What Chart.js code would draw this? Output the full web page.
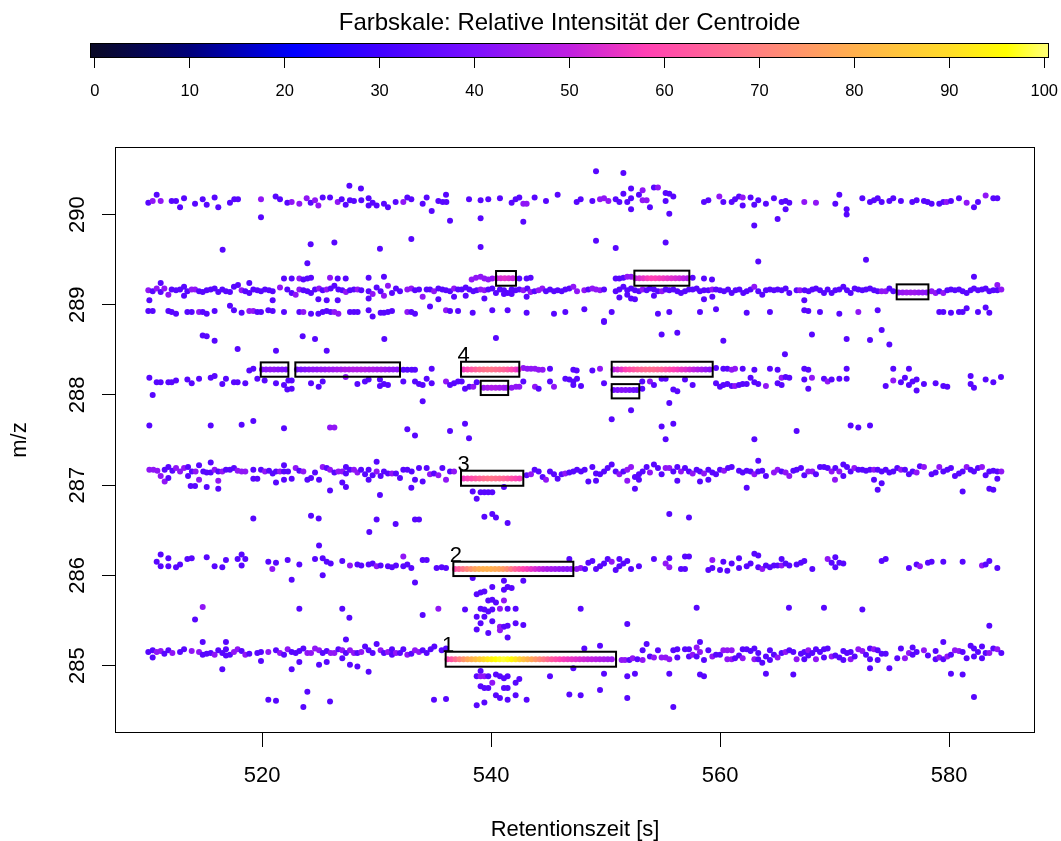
<!DOCTYPE html>
<html><head><meta charset="utf-8">
<script src="https://cdn.jsdelivr.net/npm/chart.js@4.4.1/dist/chart.umd.min.js"></script>
<style>
html,body{margin:0;padding:0;background:#fff;}
#wrap{position:relative;width:1061px;height:841px;overflow:hidden;}
canvas{position:absolute;left:0;top:0;}
</style></head><body>
<div id="wrap"><canvas id="main" width="1061" height="841"></canvas><canvas id="cbar" width="1061" height="110"></canvas></div>
<script>
// ---------- data: [retention time (s), m/z, relative intensity (%)] ----------
const row290 = [[510.07,290.13,34],[510.45,290.15,43],[510.8,290.22,34],[511.15,290.15,43],[512.11,290.15,34],[512.49,290.15,34],[512.84,290.08,34],[513.19,290.18,34],[514.15,290.12,34],[514.82,290.17,34],[515.17,290.11,34],[515.86,290.19,34],[516.18,290.08,34],[517.2,290.13,34],[517.58,290.17,34],[517.9,290.17,34],[519.91,290.17,43],[519.91,289.97,34],[521.19,290.2,34],[521.57,290.17,34],[522.21,290.13,34],[522.59,290.14,43],[523.26,290.12,43],[523.9,290.18,43],[524.25,290.13,34],[524.63,290.16,43],[524.92,290.1,43],[525.3,290.19,34],[525.94,290.19,34],[526.61,290.14,43],[526.96,290.17,34],[527.31,290.11,34],[527.63,290.32,34],[527.68,290.16,34],[528.03,290.15,34],[528.64,290.29,34],[528.67,290.16,34],[529.31,290.18,34],[529.31,290.1,34],[529.66,290.13,34],[530.01,290.1,34],[530.65,290.12,34],[531.0,290.08,34],[531.67,290.14,34],[532.34,290.14,43],[532.69,290.19,34],[533.04,290.17,34],[534.03,290.12,34],[534.38,290.19,34],
[534.82,290.04,34],[535.4,290.15,34],[535.78,290.14,34],[536.07,290.22,34],[536.1,290.14,34],[536.42,289.93,34],[538.08,290.17,34],[539.09,290.16,34],[539.09,289.96,34],[539.76,290.17,34],[540.78,290.18,34],[541.8,290.13,34],[542.15,290.17,34],[542.47,290.19,34],[542.82,290.12,43],[543.11,290.12,43],[542.82,289.92,34],[543.81,290.19,34],[544.8,290.15,34],[545.82,290.22,34],[547.48,290.14,34],[547.83,290.17,34],[548.85,290.15,34],[549.17,290.48,34],[549.52,290.17,43],[549.87,290.18,43],[550.25,290.15,43],[550.89,290.17,34],[551.21,290.14,34],[551.56,290.46,34],[551.56,290.23,34],[551.9,290.14,34],[552.23,290.18,34],[552.23,290.29,34],[552.23,290.06,34],[552.92,290.22,34],[553.24,290.27,43],[553.24,290.16,43],[553.59,290.16,43],[553.88,290.08,34],[554.23,290.3,34],[554.58,290.3,43],[555.25,290.24,34],[555.25,290.15,34],[555.57,290.23,34],[555.57,290.01,34],[555.92,290.2,34],
[558.6,290.14,34],[558.98,290.16,34],[559.94,290.2,43],[560.29,290.14,34],[561.02,290.14,34],[561.31,290.17,34],[561.66,290.2,34],[561.98,290.19,43],[561.98,290.1,34],[562.67,290.19,34],[562.99,290.11,34],[562.99,289.88,34],[563.34,290.16,34],[564.01,290.12,34],[564.71,290.18,34],[565.03,289.95,34],[565.38,290.14,34],[565.73,290.15,34],[565.73,290.06,34],[566.05,290.13,34],[567.36,290.14,43],[568.38,290.13,43],[570.07,290.12,34],[570.42,290.22,34],[571.06,290.06,34],[571.06,290.0,34],[572.43,290.18,34],[573.1,290.14,34],[573.45,290.16,34],[573.77,290.18,34],[574.12,290.14,34],[574.79,290.15,34],[575.13,290.18,34],[575.8,290.15,34],[576.79,290.14,34],[577.17,290.16,34],[577.81,290.15,34],[578.13,290.14,34],[578.48,290.12,34],[579.15,290.12,34],[579.5,290.14,34],[579.79,290.14,43],[580.17,290.15,34],[580.87,290.18,34],[581.54,290.13,43],[582.18,290.08,34],[582.53,290.14,34],[583.2,290.21,43],[583.87,290.18,34],[584.22,290.18,34],
[516.56,289.61,34],[524.25,289.67,34],[526.32,289.69,34],[523.96,289.46,34],[530.3,289.62,34],[533.04,289.73,34],[539.09,289.64,34],[549.17,289.71,34],[550.89,289.63,34],[555.25,289.69,34],[563.34,289.48,34],[572.75,289.5,34]];

const row289 = [[521.92,289.29,34],[522.59,289.29,34],[523.26,289.29,43],[523.61,289.28,34],[523.96,289.29,34],[524.28,289.3,34],[525.94,289.3,43],[526.61,289.29,34],[527.31,289.29,34],[529.31,289.3,34],[530.65,289.31,34],
[538.31,289.28,43],[538.69,289.3,43],[539.09,289.31,43],[539.42,289.29,43],[539.76,289.28,43],[540.11,289.29,43],[542.47,289.29,34],[543.11,289.29,34],[543.46,289.3,34],[550.89,289.29,34],[551.21,289.29,34],[551.56,289.3,34],[551.9,289.31,43],[552.23,289.31,43],[557.61,289.3,34],[558.6,289.29,34],[559.3,289.28,34],[582.18,289.31,34],
[510.07,289.16,43],[510.45,289.15,34],[510.8,289.18,43],[511.15,289.24,34],[511.15,289.14,34],[511.47,289.18,43],[511.82,289.11,43],[512.11,289.17,34],[512.49,289.16,34],[512.84,289.17,34],[513.19,289.2,34],[513.19,289.1,34],[513.48,289.15,34],[513.86,289.17,43],[514.15,289.17,43],[514.5,289.15,34],[514.82,289.14,34],[515.17,289.16,34],[515.52,289.17,34],[515.86,289.18,34],[516.18,289.14,34],[516.53,289.17,34],[516.85,289.15,34],[517.2,289.14,34],[517.55,289.2,34],[517.9,289.22,34],[518.22,289.16,43],[518.54,289.15,34],[518.89,289.24,34],[518.89,289.13,34],[519.24,289.17,34],[519.59,289.16,34],[519.91,289.15,34],[520.26,289.17,34],[520.61,289.16,34],[520.93,289.15,34],[521.57,289.19,43],[522.21,289.17,34],[522.59,289.13,34],[522.94,289.11,43],[523.26,289.17,43],[523.61,289.16,34],[523.96,289.15,34],[524.28,289.13,34],[524.63,289.17,34],[524.98,289.18,43],[525.3,289.16,34],[525.65,289.17,43],[526.0,289.18,34],[526.32,289.21,34],[526.67,289.17,34],[527.01,289.16,34],[527.33,289.14,43],[527.68,289.16,34],[528.03,289.17,34],[528.35,289.17,43],[528.67,289.16,34],[529.31,289.15,34],[529.66,289.12,43],[530.01,289.19,34],[530.36,289.15,34],[530.65,289.1,43],[531.0,289.21,43],[531.35,289.13,34],[531.7,289.18,34],[532.05,289.15,34],[532.69,289.17,43],[533.04,289.18,43],[533.36,289.16,34],[533.71,289.17,34],[534.03,289.09,43],[534.38,289.17,34],
[534.67,289.17,34],[535.02,289.15,43],[535.4,289.18,34],[535.75,289.17,34],[536.07,289.16,34],[536.42,289.15,34],[536.77,289.18,43],[537.12,289.17,34],[537.44,289.17,34],[537.79,289.19,34],[538.11,289.17,34],[538.45,289.15,34],[538.75,289.16,34],[539.09,289.17,43],[539.42,289.16,43],[539.76,289.17,34],[540.11,289.18,34],[540.43,289.13,34],[540.78,289.17,34],[541.13,289.16,34],[541.45,289.13,34],[541.8,289.17,34],[542.15,289.16,34],[542.47,289.17,34],[542.82,289.16,43],[543.17,289.18,34],[543.46,289.14,43],[543.81,289.15,34],[544.16,289.16,43],[544.48,289.18,43],[544.8,289.15,34],[545.15,289.17,34],[545.5,289.15,34],[545.82,289.16,34],[546.17,289.15,34],[546.49,289.17,34],[546.84,289.18,34],[547.19,289.2,43],[547.51,289.15,43],[548.15,289.16,43],[548.5,289.17,34],[548.85,289.18,43],[549.17,289.17,43],[549.52,289.16,43],[549.87,289.17,34],[550.89,289.15,34],[551.21,289.17,34],[551.56,289.2,34],[551.9,289.16,34],[552.23,289.18,34],[552.57,289.16,34],[552.92,289.15,34],[553.24,289.17,43],[553.59,289.16,34],[553.88,289.18,34],[554.23,289.17,34],[554.58,289.15,34],[554.93,289.15,43],[555.25,289.17,34],[555.57,289.16,34],[555.92,289.17,34],[556.27,289.15,34],[556.59,289.13,34],[556.94,289.15,34],[557.29,289.17,34],[557.61,289.17,34],[557.96,289.18,34],
[558.25,289.15,34],[558.6,289.16,34],[558.98,289.16,34],[559.33,289.17,43],[559.65,289.17,34],[560.0,289.16,34],[560.35,289.15,34],[560.7,289.17,34],[561.02,289.13,34],[561.36,289.16,34],[561.69,289.17,34],[562.03,289.13,34],[562.33,289.15,34],[562.67,289.17,34],[562.99,289.2,43],[563.34,289.15,34],[563.69,289.11,34],[564.01,289.16,34],[564.36,289.17,34],[564.71,289.16,34],[565.03,289.17,34],[565.38,289.16,34],[565.73,289.18,34],[566.05,289.13,34],[566.69,289.16,34],[566.98,289.16,43],[567.39,289.16,34],[567.74,289.15,34],[568.06,289.17,34],[568.38,289.18,34],[568.73,289.16,34],[569.08,289.13,34],[569.4,289.17,34],[569.75,289.13,34],[570.07,289.16,34],[570.42,289.17,34],[570.77,289.2,34],[571.09,289.16,34],[571.41,289.13,34],[571.76,289.18,34],[572.08,289.17,34],[572.43,289.16,34],[572.75,289.17,34],[573.1,289.18,34],[573.45,289.16,34],[573.77,289.15,34],[574.12,289.15,43],[574.47,289.15,43],[574.79,289.18,34],[575.13,289.15,34],[578.48,289.15,43],[578.83,289.13,43],[579.15,289.15,34],[579.5,289.13,43],[579.85,289.16,34],[580.17,289.17,34],[580.52,289.16,34],[580.87,289.17,34],[581.19,289.15,34],[581.54,289.13,34],[581.89,289.16,34],[582.18,289.18,34],[582.53,289.16,34],[582.88,289.17,34],[583.2,289.18,34],[583.52,289.15,34],[583.87,289.16,34],[584.22,289.22,43],[584.22,289.16,34],[584.57,289.17,43],
[510.16,289.05,34],[517.2,288.99,34],[517.55,288.94,34],[520.93,289.05,34],[524.92,289.06,34],[525.65,289.05,34],[526.61,289.05,34],[529.31,289.07,34],[534.67,288.98,34],[535.4,289.06,34],[536.77,289.09,34],[537.79,289.1,34],[539.42,289.07,34],[541.13,289.12,34],[541.8,289.12,34],[543.11,289.09,34],[551.21,289.08,34],[551.9,289.11,34],[552.23,289.07,34],[552.57,289.06,34],[554.23,289.1,34],[558.6,289.06,34],[559.33,289.09,34],[567.36,289.05,34]];

const row2889 = [[510.07,288.93,34],[510.45,288.93,34],[511.82,288.93,34],[512.11,288.92,34],[512.49,288.9,34],[513.48,288.92,34],[513.86,288.92,34],[514.5,288.92,43],[514.82,288.92,34],[515.17,288.9,34],[515.86,288.93,34],[518.22,288.91,34],[518.89,288.93,43],[519.24,288.93,43],[519.59,288.92,34],[519.91,288.92,34],[520.55,288.94,34],[520.93,288.93,34],[521.92,288.92,34],[523.26,288.92,34],[523.61,288.92,43],[524.28,288.9,34],[524.92,288.9,34],[525.3,288.92,34],[525.65,288.93,34],[526.0,288.92,34],[526.32,288.92,43],[526.67,288.9,43],[527.68,288.92,34],[528.03,288.92,34],[528.35,288.92,34],[529.31,288.94,34],[529.66,288.87,34],[530.36,288.91,34],[530.65,288.91,34],[531.0,288.92,34],[531.35,288.93,34],[532.69,288.92,43],[533.04,288.92,34],[533.36,288.9,34],
[536.07,288.94,43],[536.42,288.93,34],[537.12,288.93,34],[538.4,288.91,34],[540.11,288.94,34],[541.45,288.94,34],[543.11,288.91,34],[545.5,288.9,34],[546.49,288.92,34],[548.15,288.95,34],[549.87,288.82,34],[550.54,288.92,34],[554.58,288.9,34],[555.57,288.92,34],
[558.25,288.92,34],[559.65,288.95,34],[562.33,288.91,34],[564.36,288.92,34],[567.36,288.94,34],[567.71,288.93,34],[568.73,288.92,34],[570.42,288.9,34],[572.08,288.92,43],[573.77,288.94,34],[579.15,288.92,34],[579.5,288.92,34],[580.17,288.91,34],[580.87,288.92,34],[581.19,288.92,34],[581.54,288.96,34],[582.53,288.92,34],[583.2,288.97,34],[583.52,288.91,34]];

const row288 = [[514.82,288.66,34],[515.17,288.65,34],[515.86,288.6,34],[517.87,288.51,34],[521.22,288.49,34],[523.55,288.65,34],[524.63,288.62,34],[525.65,288.49,34],[530.68,288.62,34],[540.43,288.63,34],[549.87,288.81,34],[554.9,288.67,34],[556.27,288.69,34],[560.29,288.6,34],[568.03,288.67,34],[571.06,288.62,34],[573.1,288.61,34],[574.12,288.72,34],[574.79,288.56,34],[565.67,288.45,34],
[518.89,288.27,34],[519.24,288.29,34],[532.34,288.28,34],[532.69,288.28,34],[533.07,288.28,34],[533.36,288.28,34],[534.82,288.29,34],[542.82,288.3,43],[543.17,288.29,43],[543.49,288.29,43],[543.84,288.29,43],[544.16,288.28,43],[544.51,288.28,43],[545.15,288.29,34],[547.19,288.28,34],[547.48,288.27,34],[548.85,288.27,34],[549.52,288.29,43],[559.65,288.3,34],[560.29,288.29,34],[560.64,288.29,34],[561.02,288.28,43],[561.31,288.29,43],[561.98,288.29,34],[563.0,288.28,34],[564.36,288.29,34],[565.03,288.28,34],[567.36,288.29,34],[567.71,288.28,34],[571.06,288.29,34],[575.13,288.29,34],[576.5,288.29,34],
[510.16,288.19,34],[510.45,288.0,34],[510.8,288.14,34],[511.15,288.14,34],[511.82,288.14,34],[512.11,288.14,34],[512.49,288.16,34],[513.48,288.17,34],[513.86,288.13,34],[514.5,288.18,34],[515.52,288.19,34],[515.86,288.21,34],[516.53,288.12,34],[516.85,288.18,34],[517.55,288.14,34],[517.87,288.14,34],[518.54,288.13,34],[519.59,288.18,34],[520.23,288.16,34],[521.22,288.13,34],[521.92,288.11,34],[522.21,288.06,34],[522.59,288.07,34],[522.3,288.16,34],[522.59,288.16,34],[524.28,288.13,34],[524.95,288.09,34],[525.3,288.15,34],[527.31,288.2,43],[528.33,288.12,34],[528.99,288.15,34],[529.31,288.17,34],[530.3,288.17,34],[530.3,288.1,34],[530.65,288.12,34],[531.0,288.11,34],[532.34,288.15,34],[533.36,288.15,34],[533.71,288.12,34],[534.03,288.11,34],[534.38,288.18,34],[534.03,287.93,34],
[534.82,288.13,34],[536.07,288.15,43],[536.42,288.11,34],[536.77,288.13,34],[537.12,288.15,34],[537.44,288.15,34],[537.73,288.07,34],[538.11,288.09,34],[538.45,288.09,43],[538.75,288.14,34],[541.8,288.08,43],[542.18,288.09,43],[542.47,288.09,43],[542.82,288.15,34],[543.84,288.09,43],[544.16,288.07,34],[545.15,288.15,34],[545.5,288.09,43],[546.49,288.18,34],[546.84,288.17,34],[547.19,288.15,34],[547.51,288.18,34],[547.86,288.1,34],[547.19,288.11,34],[549.87,288.13,34],[553.21,288.07,34],[553.21,288.15,34],[553.88,288.15,43],[554.23,288.11,34],[554.9,288.18,34],[555.25,288.18,34],[555.92,288.06,34],[556.27,288.04,34],[556.94,288.17,34],[557.61,288.11,34],
[559.65,288.13,34],[560.0,288.09,34],[560.29,288.11,34],[560.64,288.12,34],[561.02,288.1,34],[561.31,288.1,43],[561.66,288.11,34],[561.98,288.12,34],[562.33,288.12,34],[562.67,288.19,34],[563.0,288.14,34],[563.34,288.12,34],[564.01,288.1,43],[565.03,288.13,34],[565.38,288.11,34],[565.38,288.19,43],[565.73,288.2,34],[566.05,288.19,34],[567.36,288.17,34],[567.71,288.07,34],[568.03,288.19,43],[569.08,288.18,34],[569.4,288.15,43],[569.75,288.17,34],[570.42,288.18,34],[571.06,288.18,34],[574.47,288.1,34],[575.13,288.16,43],[575.8,288.14,34],[576.15,288.19,34],[576.5,288.11,34],[576.82,288.15,34],[577.17,288.17,34],[577.17,288.05,34],[577.81,288.12,34],[578.83,288.13,34],[579.5,288.1,34],[579.85,288.09,34],[581.89,288.21,34],[581.89,288.12,34],[582.18,288.08,34],[583.2,288.17,34],[583.87,288.14,34],[584.54,288.2,34]];

const row287 = [[510.16,287.66,34],[515.52,287.66,34],[518.22,287.67,34],[519.24,287.71,34],[521.92,287.63,34],[525.94,287.64,43],[526.32,287.64,43],[532.69,287.62,34],[533.36,287.55,34],[536.42,287.6,34],[537.73,287.68,34],[538.08,287.52,34],[550.54,287.73,34],[552.23,287.83,34],[554.9,287.65,34],[555.25,287.51,34],[555.57,287.91,34],[555.92,287.68,34],[563.0,287.51,34],[566.69,287.6,34],[571.41,287.66,34],[572.08,287.64,34],[573.1,287.66,34],
[510.16,287.17,43],[510.51,287.17,43],[510.86,287.16,43],[511.15,287.1,43],[511.5,287.04,43],[511.5,287.17,34],[511.82,287.2,34],[511.82,287.08,34],[512.17,287.16,34],[512.49,287.19,43],[512.84,287.15,43],[513.19,287.19,43],[513.54,287.2,34],[513.54,287.1,34],[513.88,287.15,34],[514.2,287.15,43],[514.5,287.22,34],[514.5,287.06,43],[514.87,287.15,34],[515.17,287.14,34],[515.52,287.25,34],[515.52,287.14,34],[515.86,287.17,43],[516.18,287.15,34],[516.18,287.05,43],[516.53,287.15,43],[516.85,287.17,34],[517.2,287.17,34],[517.55,287.19,34],[517.87,287.16,43],[518.22,287.15,43],[518.54,287.15,43],[519.24,287.17,34],[519.24,287.07,34],[519.59,287.07,34],[519.91,287.17,34],[520.26,287.15,43],[520.61,287.16,34],[520.93,287.13,34],[521.22,287.15,34],[521.22,287.03,34],[521.57,287.15,43],[521.92,287.22,34],[521.92,287.15,34],[521.92,287.06,34],[522.27,287.15,34],[522.59,287.07,34],[522.94,287.19,43],[523.26,287.16,34],[523.61,287.15,43],[523.96,287.06,34],[524.28,287.08,34],[524.63,287.14,34],[524.98,287.06,34],[525.3,287.2,43],[525.65,287.19,34],[525.94,287.17,43],[526.32,287.14,34],[526.67,287.15,43],[527.01,287.15,43],[527.33,287.2,34],[527.33,287.13,34],[527.68,287.17,34],[528.03,287.17,43],[528.33,287.14,43],[528.65,287.17,34],[529.0,287.12,34],[529.31,287.17,34],[529.31,287.06,34],[529.66,287.11,34],[530.01,287.26,34],[530.01,287.15,43],[530.36,287.1,34],[530.65,287.15,34],[531.0,287.13,34],[531.35,287.13,43],[531.7,287.13,34],[532.05,287.08,34],[532.34,287.17,34],[532.69,287.17,34],[533.07,287.15,34],[533.36,287.06,34],[533.71,287.19,34],[534.03,287.04,34],[534.38,287.19,34],
[534.67,287.12,43],[535.02,287.13,34],[535.4,287.11,43],[535.75,287.19,34],[536.07,287.06,43],[536.42,287.15,34],[536.77,287.15,43],[543.11,287.11,34],[543.49,287.12,43],[543.81,287.17,34],[544.16,287.15,34],[544.51,287.09,34],[544.8,287.06,43],[545.15,287.15,34],[545.5,287.12,34],[545.82,287.07,34],[546.17,287.12,34],[546.49,287.13,43],[546.84,287.14,34],[547.19,287.15,34],[547.51,287.17,34],[547.86,287.15,34],[548.18,287.17,34],[548.5,287.04,34],[548.85,287.2,34],[549.17,287.13,34],[549.17,287.05,34],[549.52,287.12,34],[549.87,287.15,34],[550.19,287.19,34],[550.54,287.23,34],[550.89,287.15,34],[551.21,287.12,43],[551.56,287.15,34],[551.9,287.17,43],[551.9,287.05,43],[552.23,287.2,43],[552.57,287.09,34],[552.57,286.96,34],[552.92,287.12,34],[552.92,287.06,34],[553.24,287.15,34],[553.59,287.2,34],[553.88,287.14,43],[554.23,287.23,34],[554.58,287.19,34],[554.9,287.12,34],[555.25,287.19,43],[555.57,287.19,43],[555.92,287.15,34],[556.27,287.2,34],[556.27,287.05,34],[556.59,287.15,43],[556.94,287.19,34],[557.29,287.15,34],[557.61,287.13,43],[557.96,287.17,34],
[558.25,287.15,34],[558.6,287.13,43],[558.98,287.17,34],[559.33,287.14,34],[559.65,287.12,34],[560.0,287.17,34],[560.35,287.16,43],[560.7,287.19,34],[561.02,287.2,34],[561.66,287.16,34],[561.98,287.14,34],[562.33,287.16,34],[562.67,287.15,34],[563.0,287.12,43],[563.34,287.27,34],[563.34,287.15,34],[563.69,287.16,34],[564.01,287.1,34],[564.71,287.14,43],[565.03,287.17,43],[565.38,287.15,34],[565.73,287.14,43],[566.05,287.1,43],[566.4,287.16,34],[566.69,287.17,34],[567.07,287.19,34],[567.36,287.11,34],[567.71,287.15,43],[568.06,287.15,43],[568.38,287.12,34],[568.73,287.2,34],[569.08,287.2,34],[569.4,287.19,34],[569.75,287.15,43],[570.07,287.19,34],[570.42,287.15,43],[570.77,287.1,34],[570.77,287.23,34],[571.09,287.2,34],[571.41,287.15,34],[571.73,287.19,43],[572.08,287.17,34],[572.43,287.17,34],[572.75,287.16,34],[573.1,287.17,34],[573.45,287.17,43],[573.77,287.17,34],[574.12,287.15,34],[574.47,287.17,34],[574.79,287.14,34],[575.13,287.15,34],[575.48,287.19,34],[575.8,287.17,43],[576.15,287.17,34],[576.5,287.12,34],[576.82,287.15,34],[577.17,287.14,43],[577.46,287.21,34],[577.81,287.2,43],[578.48,287.12,34],[578.83,287.14,34],[579.15,287.2,43],[579.5,287.15,34],[579.85,287.17,34],[580.17,287.19,34],[580.52,287.1,34],[580.87,287.13,34],[581.19,287.15,34],[581.54,287.2,43],[581.89,287.17,34],[582.18,287.15,34],[582.53,287.19,34],[582.88,287.2,43],[583.2,287.11,34],[583.52,287.15,34],[583.87,287.16,34],[584.22,287.15,34],[584.57,287.15,43],
[513.77,286.99,34],[514.15,286.99,34],[515.17,286.98,34],[516.18,286.96,34],[525.94,286.94,34],[527.01,287.03,34],[527.33,286.98,34],[530.3,286.89,34],[533.04,286.97,34],[538.4,286.93,34],[538.75,286.85,34],[539.09,286.92,34],[539.42,286.92,34],[539.76,286.92,34],[540.11,286.92,34],[541.13,286.98,34],[558.25,287.04,34],[558.98,287.06,34],[562.33,286.97,34],[570.04,287.06,43],[573.45,287.06,34],[573.77,286.95,34],[574.12,287.02,34],[581.19,286.93,34],[583.52,286.96,34],[583.87,286.95,34],[584.22,287.07,34]];

const row286 = [[539.42,286.65,34],[540.11,286.68,34],[540.43,286.64,34],[555.57,286.68,34],[557.29,286.64,34],[541.45,286.58,34],[519.24,286.63,34],[524.28,286.66,34],[524.95,286.63,34],[530.01,286.62,34],[533.36,286.62,34],[533.71,286.62,34],[531.67,286.57,34],[529.37,286.48,34],
[510.8,286.15,34],[511.15,286.23,34],[511.15,286.1,34],[511.82,286.19,34],[511.82,286.1,34],[512.49,286.09,34],[512.84,286.12,34],[513.48,286.18,34],[513.86,286.19,34],[515.17,286.2,34],[515.86,286.1,34],[516.53,286.09,34],[516.85,286.17,34],[517.87,286.18,34],[518.22,286.23,34],[518.22,286.11,34],[518.54,286.18,34],[520.55,286.15,34],[520.9,286.07,43],[521.22,286.14,34],[522.24,286.17,34],[522.59,285.95,34],[523.26,286.12,34],[524.63,286.18,34],[524.98,286.33,34],[525.3,286.19,34],[525.3,286.0,34],[525.65,286.15,34],[526.0,286.13,34],[527.01,286.16,34],[527.68,286.11,43],[528.33,286.12,34],[528.67,286.11,34],[529.31,286.12,34],[529.66,286.13,34],[530.01,286.1,43],[530.36,286.11,34],[531.0,286.1,34],[531.35,286.09,34],[531.7,286.11,34],[532.34,286.21,43],[532.34,286.1,34],[532.69,286.12,34],[533.04,286.08,34],[533.36,285.92,34],[534.03,286.17,34],[534.38,286.17,34],
[535.25,286.08,34],[535.69,286.09,34],[536.07,286.08,34],[546.84,286.18,34],[547.48,286.07,43],[547.83,286.08,43],[548.21,286.07,34],[548.5,286.14,34],[548.85,286.16,34],[549.17,286.07,34],[549.52,286.1,34],[549.87,286.13,34],[550.19,286.18,34],[550.54,286.15,43],[550.89,286.06,34],[551.21,286.1,34],[551.21,286.18,34],[551.56,286.13,34],[551.9,286.16,34],[552.23,286.07,34],[552.92,286.1,34],[554.23,286.18,34],[555.25,286.13,43],[555.57,286.19,34],[555.57,286.09,43],[556.59,286.07,34],[556.94,286.07,34],[556.94,286.21,34],[557.29,286.21,34],
[558.98,286.06,34],[559.33,286.08,34],[559.33,286.17,43],[560.0,286.06,34],[560.29,286.15,34],[560.64,286.05,34],[561.02,286.13,34],[561.66,286.19,34],[561.66,286.08,34],[562.33,286.1,34],[562.67,286.13,34],[563.0,286.24,34],[563.34,286.22,34],[563.34,286.09,34],[563.69,286.07,43],[564.01,286.11,34],[564.36,286.09,34],[564.71,286.11,34],[565.03,286.11,34],[565.38,286.18,34],[565.38,286.11,43],[565.73,286.13,34],[566.05,286.11,34],[566.69,286.12,34],[567.07,286.14,34],[567.36,286.16,34],[568.06,286.07,34],[569.4,286.18,43],[569.75,286.14,34],[570.07,286.2,34],[570.07,286.09,34],[570.42,286.14,34],[570.77,286.13,34],[574.12,286.16,34],[574.47,286.18,34],[576.5,286.08,34],[577.17,286.12,34],[577.46,286.1,43],[578.16,286.14,34],[578.48,286.15,34],[579.5,286.15,34],[581.19,286.15,34],[582.88,286.11,43],[583.2,286.12,34],[583.52,286.16,34],[584.22,286.08,34],
[538.4,285.97,34],[538.75,285.79,34],[539.09,285.81,34],[539.42,285.82,34],[540.11,285.87,34],[541.13,285.94,34],[541.13,285.84,34],[541.45,285.87,34],[541.8,285.86,34],[542.82,285.94,34],[539.76,285.72,34],[540.11,285.73,34],[540.43,285.7,34],[541.13,285.72,43],[539.09,285.63,34],[539.42,285.62,34],[539.76,285.6,34],[540.11,285.62,34],[540.78,285.63,43],[541.45,285.63,34],[542.15,285.63,34],[538.75,285.54,34],[539.42,285.54,34],[539.09,285.47,34],[540.11,285.49,34],[540.78,285.43,43],[541.13,285.43,34],[541.45,285.44,34],[542.15,285.47,34],[542.82,285.45,34],[538.75,285.4,34],[539.76,285.36,34],[540.78,285.39,43],[541.45,285.31,34],[537.73,285.62,34],[547.83,285.63,34],[551.9,285.46,34],[557.96,285.64,34],[535.4,285.63,43],[514.15,285.51,34],[514.82,285.65,43],[523.26,285.63,34],[527.01,285.63,34],[527.63,285.53,34],[534.03,285.56,34],[566.02,285.64,34],[569.08,285.64,34],[572.43,285.62,34],[583.52,285.44,34]];

const row285 = [[510.07,285.15,34],[510.45,285.17,34],[510.45,285.09,34],[510.8,285.15,43],[511.15,285.16,43],[511.47,285.13,34],[511.82,285.17,34],[512.17,285.14,43],[512.84,285.15,34],[513.19,285.18,34],[513.86,285.16,43],[514.5,285.15,43],[514.82,285.26,34],[514.82,285.12,34],[515.17,285.13,34],[515.52,285.14,34],[515.86,285.12,43],[516.18,285.17,34],[516.53,285.14,34],[516.53,284.96,34],[516.85,285.26,34],[516.85,285.18,34],[516.85,285.11,34],[517.2,285.12,34],[517.55,285.15,43],[517.87,285.18,43],[518.22,285.16,34],[518.54,285.12,43],[518.89,285.13,34],[519.59,285.14,34],[519.91,285.15,34],[519.91,285.05,34],[520.55,285.15,43],[521.22,285.17,34],[521.57,285.14,43],[521.92,285.12,34],[522.24,285.18,43],[522.59,285.15,34],[522.59,284.96,34],[522.94,285.14,34],[523.26,285.16,34],[523.26,285.04,34],[523.61,285.19,34],[523.96,285.14,43],[524.28,285.14,43],[524.63,285.19,43],[524.98,285.17,43],[524.98,285.01,34],[525.3,285.14,34],[525.65,285.16,34],[525.65,285.04,34],[526.0,285.14,43],[526.32,285.14,43],[526.67,285.18,34],[527.01,285.17,43],[527.01,285.08,34],[527.33,285.14,34],[527.33,285.29,34],[527.68,285.17,43],[527.68,285.01,34],[528.03,285.14,43],[528.33,285.14,34],[528.33,284.99,34],[528.67,285.15,43],[529.0,285.21,34],[529.31,285.17,34],[529.31,284.93,34],[529.66,285.14,34],[530.01,285.24,34],[530.36,285.17,43],[530.65,285.14,34],[531.0,285.15,43],[531.35,285.18,34],[531.35,285.12,34],[531.7,285.14,43],[532.05,285.14,34],[532.34,285.18,34],[532.69,285.12,43],[533.04,285.13,34],[533.36,285.17,43],[533.71,285.15,43],[534.03,285.17,34],[534.38,285.14,34],[534.73,285.18,34],[535.05,285.21,34],
[520.55,284.62,34],[521.22,284.61,34],[523.61,284.54,34],[523.96,284.71,34],[525.94,284.6,34],
[535.69,285.17,34],[536.07,285.19,34],[548.15,285.19,34],[549.52,285.22,34],[551.41,285.06,43],[551.7,285.06,43],[552.08,285.06,34],[552.37,285.08,43],[552.78,285.07,34],[553.24,285.17,34],[553.24,285.06,43],[553.59,285.24,34],[553.88,285.1,34],[554.23,285.09,43],[554.58,285.17,34],[554.9,285.09,43],[555.25,285.09,43],[555.57,285.07,43],[555.92,285.17,34],[556.27,285.18,34],[556.27,285.09,34],[556.94,285.18,34],[557.29,285.18,34],[557.29,285.1,34],[557.61,285.12,43],[557.96,285.2,43],[557.96,285.1,34],
[539.09,284.94,34],[538.75,284.88,34],[539.09,284.88,43],[539.42,284.88,43],[539.76,284.88,34],[540.11,284.81,43],[540.43,284.9,34],[540.78,284.88,34],[541.13,284.86,34],[541.45,284.88,34],[539.09,284.77,34],[539.42,284.75,34],[539.76,284.75,34],[541.13,284.75,34],[541.45,284.75,34],[542.15,284.81,34],[542.47,284.85,34],[540.43,284.67,34],[540.78,284.64,34],[541.45,284.62,34],[542.15,284.67,34],[538.75,284.56,34],[539.42,284.59,34],[543.11,284.62,34],[545.15,284.88,34],[547.19,284.97,34],[546.84,284.68,34],[547.83,284.67,34],[549.52,284.73,34],[549.87,284.91,34],[551.9,284.88,34],[552.57,284.91,34],[555.57,284.91,34],[551.9,284.64,34],[555.92,284.54,34],[535.02,284.62,34],[536.07,284.63,34],
[558.25,285.26,34],[558.25,285.15,43],[558.6,285.06,34],[558.98,285.17,34],[559.33,285.1,43],[559.65,285.12,34],[560.0,285.12,34],[560.29,285.17,43],[560.64,285.17,43],[560.64,285.07,43],[561.02,285.17,43],[561.02,285.07,43],[561.31,285.08,34],[561.66,285.11,34],[561.98,285.18,34],[561.98,285.08,43],[562.33,285.18,34],[562.67,285.16,34],[563.0,285.19,34],[563.0,285.07,43],[563.34,285.14,34],[563.34,285.07,34],[563.69,285.03,34],[564.01,285.1,34],[564.36,285.17,34],[564.36,285.06,34],[564.71,285.12,34],[565.03,285.09,43],[565.38,285.14,34],[565.73,285.15,43],[566.05,285.17,34],[566.4,285.15,34],[566.69,285.07,43],[567.07,285.13,34],[567.36,285.15,34],[567.36,285.07,34],[567.71,285.11,34],[567.71,285.17,43],[568.06,285.14,34],[568.38,285.18,34],[568.38,285.07,43],[568.73,285.15,34],[569.08,285.18,34],[569.08,285.09,34],[569.4,285.19,34],[569.75,285.1,43],[570.07,285.11,34],[570.42,285.09,34],[570.77,285.16,34],[570.77,285.06,34],[571.09,285.14,34],[571.41,285.15,34],[571.41,285.07,43],[571.76,285.1,34],[572.08,285.18,43],[572.43,285.16,43],[572.75,285.12,34],[573.1,285.19,34],[573.1,285.07,34],[573.1,284.97,34],[573.45,285.18,43],[573.77,285.17,34],[573.77,285.06,34],[574.12,285.13,34],[574.47,285.13,34],[574.79,284.97,34],[575.48,285.08,34],[575.8,285.19,34],[576.15,285.08,43],[576.5,285.14,43],[576.82,285.2,34],[576.82,285.12,34],[577.17,285.15,34],[577.81,285.17,43],[578.16,285.11,34],[578.83,285.16,34],[578.83,285.07,34],[579.15,285.09,43],[579.5,285.26,34],[579.5,285.07,34],[579.85,285.1,43],[580.17,285.12,34],[580.52,285.17,43],[580.87,285.16,43],[581.19,285.15,34],[581.54,285.08,34],[581.89,285.22,34],[582.18,285.19,34],[582.18,285.1,34],[582.53,285.15,34],[582.88,285.21,34],[582.88,285.08,34],[583.2,285.14,34],[583.52,285.14,43],[583.87,285.19,34],[584.22,285.18,43],[584.57,285.14,34],
[558.25,284.9,34],[558.6,284.88,34],[564.01,284.91,34],[566.4,284.9,34],[580.17,284.91,34],[581.19,284.9,34],[582.18,284.65,34]];

// centroids inside the detected features (high intensity)
const peakPoints = [[536.2,285.07,58],[536.55,285.07,62],[536.9,285.07,66],[537.25,285.07,70],[537.6,285.07,74],[537.95,285.07,78],[538.3,285.07,80],[538.65,285.07,83],[539.0,285.07,86],[539.35,285.07,89],[539.7,285.07,92],[540.05,285.07,94],[540.4,285.07,96],[540.75,285.07,97],[541.1,285.07,98],[541.45,285.07,97],[541.8,285.07,95],[542.15,285.07,92],[542.5,285.07,88],[542.85,285.07,84],[543.2,285.07,81],[543.55,285.07,78],[543.9,285.07,75],[544.25,285.07,72],[544.6,285.07,69],[544.95,285.07,66],[545.3,285.07,63],[545.65,285.07,61],[546.0,285.07,59],[546.35,285.07,57],[546.7,285.07,56],[547.05,285.07,55],[547.4,285.07,54],[547.75,285.07,53],[548.1,285.07,52],[548.45,285.07,51],[548.8,285.07,50],[549.15,285.07,49],[549.5,285.07,48],[549.85,285.07,47],[550.2,285.07,46],[550.55,285.07,45],
[536.85,286.07,60],[537.2,286.07,64],[537.55,286.07,68],[537.9,286.07,71],[538.25,286.07,74],[538.6,286.07,77],[538.95,286.07,79],[539.3,286.07,80],[539.65,286.07,80],[540.0,286.07,80],[540.35,286.07,79],[540.7,286.07,78],[541.05,286.07,76],[541.4,286.07,73],[541.75,286.07,69],[542.1,286.07,65],[542.45,286.07,62],[542.8,286.07,59],[543.15,286.07,57],[543.5,286.07,55],[543.85,286.07,53],[544.2,286.07,51],[544.55,286.07,49],[544.9,286.07,47],[545.25,286.07,46],[545.6,286.07,45],[545.95,286.07,44],[546.3,286.07,43],[546.65,286.07,42],[547.0,286.07,42],
[537.6,287.075,56],[537.95,287.075,58],[538.3,287.075,60],[538.65,287.075,62],[539.0,287.075,64],[539.35,287.075,66],[539.7,287.075,67],[540.05,287.075,68],[540.4,287.075,67],[540.75,287.075,66],[541.1,287.075,65],[541.45,287.075,63],[541.8,287.075,61],[542.15,287.075,59],[542.5,287.075,57],
[537.6,288.283,56],[537.95,288.283,59],[538.3,288.283,62],[538.65,288.283,64],[539.0,288.283,66],[539.35,288.283,67],[539.7,288.283,68],[540.05,288.283,68],[540.4,288.283,67],[540.75,288.283,66],[541.1,288.283,65],[541.45,288.283,63],[541.8,288.283,60],[542.15,288.283,57],[542.4,288.283,54],
[539.35,288.08,44],[539.7,288.08,46],[540.05,288.08,47],[540.4,288.08,47],[540.75,288.08,46],[541.1,288.08,45],[541.35,288.08,44],
[550.7,288.283,48],[551.05,288.283,52],[551.4,288.283,55],[551.75,288.283,58],[552.1,288.283,60],[552.45,288.283,62],[552.8,288.283,64],[553.15,288.283,65],[553.5,288.283,66],[553.85,288.283,66],[554.2,288.283,66],[554.55,288.283,65],[554.9,288.283,64],[555.25,288.283,62],[555.6,288.283,60],[555.95,288.283,58],[556.3,288.283,57],[556.65,288.283,55],[557.0,288.283,54],[557.35,288.283,52],[557.7,288.283,50],[558.05,288.283,48],[558.4,288.283,46],[558.75,288.283,44],[559.1,288.283,42],
[550.7,288.054,38],[551.05,288.054,40],[551.4,288.054,41],[551.75,288.054,41],[552.1,288.054,40],[552.45,288.054,38],[552.75,288.054,37],
[520.0,288.283,40],[520.35,288.283,42],[520.7,288.283,43],[521.05,288.283,43],[521.4,288.283,42],[521.75,288.283,41],[522.1,288.283,40],
[523.05,288.283,38],[523.4,288.283,40],[523.75,288.283,41],[524.1,288.283,42],[524.45,288.283,43],[524.8,288.283,43],[525.15,288.283,44],[525.5,288.283,44],[525.85,288.283,45],[526.2,288.283,45],[526.55,288.283,46],[526.9,288.283,46],[527.25,288.283,47],[527.6,288.283,47],[527.95,288.283,48],[528.3,288.283,48],[528.65,288.283,48],[529.0,288.283,48],[529.35,288.283,47],[529.7,288.283,47],[530.05,288.283,46],[530.4,288.283,46],[530.75,288.283,45],[531.1,288.283,44],[531.45,288.283,43],[531.8,288.283,42],
[540.5,289.293,50],[540.85,289.293,53],[541.2,289.293,54],[541.55,289.293,53],[541.9,289.293,51],
[552.6,289.293,50],[552.95,289.293,53],[553.3,289.293,55],[553.65,289.293,57],[554.0,289.293,58],[554.35,289.293,58],[554.7,289.293,57],[555.05,289.293,56],[555.4,289.293,55],[555.75,289.293,54],[556.1,289.293,53],[556.45,289.293,52],[556.8,289.293,50],[557.15,289.293,48],
[575.6,289.135,42],[575.95,289.135,44],[576.3,289.135,45],[576.65,289.135,45],[577.0,289.135,45],[577.35,289.135,44],[577.7,289.135,43],[578.05,289.135,42]];

// feature boxes: [rt min, rt max, m/z min, m/z max, label]
const featureBoxes = [[536.04,550.92,284.987,285.153,'1'],[536.71,547.19,285.992,286.151,'2'],[537.38,542.82,286.993,287.16,'3'],[537.38,542.47,288.202,288.368,'4'],[539.1,541.5,287.999,288.157,''],[550.54,559.36,288.202,288.368,''],[550.54,552.95,287.962,288.12,''],[519.89,522.3,288.202,288.361,''],[522.91,532.05,288.202,288.361,''],[540.44,542.18,289.211,289.374,''],[552.52,557.32,289.211,289.378,''],[575.43,578.2,289.06,289.226,'']];

const xTicks = [520, 540, 560, 580];
const yTicks = [285, 286, 287, 288, 289, 290];
const cbTicks = [0, 10, 20, 30, 40, 50, 60, 70, 80, 90, 100];
const paletteStops = [[0,'#0a0a28'],[10,'#00007a'],[21,'#0000ff'],[30,'#4000ff'],[40,'#7c10ff'],[50,'#c020e0'],[58,'#ff40b4'],[70,'#ff8080'],[80,'#ffb04e'],[90,'#ffdc28'],[96,'#ffff00'],[100,'#ffff70']];

// ---------- rendering ----------
const FONT = "'Liberation Sans', Arial, Helvetica, sans-serif";
Chart.defaults.font.family = FONT;

function hexRgb(h){ return [parseInt(h.slice(1,3),16),parseInt(h.slice(3,5),16),parseInt(h.slice(5,7),16)]; }
function colorFor(v){
  for (let i = 1; i < paletteStops.length; i++) {
    const [v1,c1] = paletteStops[i];
    if (v <= v1) {
      const [v0,c0] = paletteStops[i-1];
      const t = (v - v0) / (v1 - v0);
      const a = hexRgb(c0), b = hexRgb(c1);
      return 'rgb(' + a.map((x,k)=>Math.round(x + (b[k]-x)*t)).join(',') + ')';
    }
  }
  return paletteStops[paletteStops.length-1][1];
}

function mkSet(arr, order){
  return {
    data: arr.map(([x,y,v]) => ({x, y, v})),
    pointBackgroundColor: ctx => colorFor(ctx.raw ? ctx.raw.v : 34),
    pointBorderWidth: 0, pointRadius: 3, pointHoverRadius: 3, order: order
  };
}

const framePlugin = {
  id: 'frame',
  afterDatasetsDraw(chart){
    const {ctx, scales:{x, y}} = chart;
    ctx.save();
    ctx.strokeStyle = '#000'; ctx.lineWidth = 2;
    ctx.fillStyle = '#000';
    ctx.font = '22px ' + FONT;
    ctx.textAlign = 'center'; ctx.textBaseline = 'alphabetic';
    featureBoxes.forEach(([x1,x2,y1,y2,lab]) => {
      const px1 = x.getPixelForValue(x1), px2 = x.getPixelForValue(x2);
      const py1 = y.getPixelForValue(y1), py2 = y.getPixelForValue(y2);
      ctx.strokeRect(px1, py2, px2 - px1, py1 - py2);
      if (lab) ctx.fillText(lab, px1 + 2.5, py2 + 0.5);
    });
    ctx.restore();
  },
  afterDraw(chart){
    const {ctx, chartArea:a, scales:{y}} = chart;
    ctx.save();
    ctx.strokeStyle = '#000'; ctx.lineWidth = 1;
    ctx.strokeRect(a.left + 0.5, a.top + 0.5, a.right - a.left - 1, a.bottom - a.top - 1);
    ctx.fillStyle = '#000';
    ctx.font = '22px ' + FONT;
    ctx.textAlign = 'center'; ctx.textBaseline = 'middle';
    y.ticks.forEach(t => {
      ctx.save();
      ctx.translate(78, y.getPixelForValue(t.value));
      ctx.rotate(-Math.PI/2);
      ctx.fillText(String(t.value), 0, 0);
      ctx.restore();
    });
    ctx.restore();
  }
};

new Chart(document.getElementById('main'), {
  type: 'scatter',
  data: { datasets: [mkSet(peakPoints,0), mkSet(row285,1), mkSet(row286,1), mkSet(row287,1), mkSet(row288,1), mkSet(row2889,1), mkSet(row289,1), mkSet(row290,1)] },
  options: {
    responsive: false, animation: false, devicePixelRatio: 1,
    layout: { padding: { top: 147, right: 26, left: 0, bottom: 0 } },
    plugins: { legend: { display: false }, tooltip: { enabled: false } },
    elements: { point: { borderWidth: 0 } },
    scales: {
      x: {
        type: 'linear', min: 507.16, max: 587.51,
        afterBuildTicks: s => { s.ticks = xTicks.map(v => ({value: v})); },
        afterFit: s => { s.height = 108; s.paddingLeft = 0; s.paddingRight = 0; },
        grid: { drawOnChartArea: false, drawTicks: true, tickLength: 14, color: '#000', tickColor: '#000', lineWidth: 1 },
        border: { display: false },
        ticks: { color: '#000', font: { size: 22 }, padding: 16, maxRotation: 0, autoSkip: false },
        title: { display: true, text: 'Retentionszeit [s]', color: '#000', font: { size: 22, lineHeight: 1 }, padding: { top: 0, bottom: 0 } }
      },
      y: {
        type: 'linear', min: 284.252, max: 290.749,
        afterBuildTicks: s => { s.ticks = yTicks.map(v => ({value: v})); },
        afterFit: s => { s.width = 115; s.paddingTop = 0; s.paddingBottom = 0; },
        grid: { drawOnChartArea: false, drawTicks: true, tickLength: 13, color: '#000', tickColor: '#000', lineWidth: 1 },
        border: { display: false },
        ticks: { display: false },
        title: { display: true, text: 'm/z', color: '#000', font: { size: 22, lineHeight: 1 }, padding: { top: 9, bottom: 0 } }
      }
    }
  },
  plugins: [framePlugin]
});

const cbPlugin = {
  id: 'cbar',
  beforeDatasetsDraw(chart){
    const {ctx, chartArea:a, scales:{x}} = chart;
    const x0 = x.getPixelForValue(-0.5), x1 = x.getPixelForValue(100.5);
    const g = ctx.createLinearGradient(x0, 0, x1, 0);
    paletteStops.forEach(([v,c]) => g.addColorStop((v + 0.5) / 101, c));
    ctx.save();
    ctx.fillStyle = g;
    ctx.fillRect(a.left, a.top, a.right - a.left, a.bottom - a.top);
    ctx.strokeStyle = '#000'; ctx.lineWidth = 1;
    ctx.strokeRect(a.left + 0.5, a.top + 0.5, a.right - a.left - 1, a.bottom - a.top - 1);
    ctx.fillStyle = '#000';
    ctx.font = '24px ' + FONT;
    ctx.textAlign = 'center'; ctx.textBaseline = 'middle';
    ctx.fillText('Farbskale: Relative Intensität der Centroide', (a.left + a.right) / 2, 23);
    ctx.restore();
  }
};

new Chart(document.getElementById('cbar'), {
  type: 'scatter',
  data: { datasets: [] },
  options: {
    responsive: false, animation: false, devicePixelRatio: 1,
    layout: { padding: { left: 90, right: 12, top: 43, bottom: 0 } },
    plugins: { legend: { display: false }, tooltip: { enabled: false } },
    scales: {
      x: {
        type: 'linear', min: -0.5, max: 100.5,
        afterBuildTicks: s => { s.ticks = cbTicks.map(v => ({value: v})); },
        afterFit: s => { s.height = 52; s.paddingLeft = 0; s.paddingRight = 0; },
        grid: { drawOnChartArea: false, drawTicks: true, tickLength: 10, color: '#000', tickColor: '#000', lineWidth: 1 },
        border: { display: false },
        ticks: { color: '#000', font: { size: 16.5 }, padding: 14, maxRotation: 0, autoSkip: false }
      },
      y: { display: false, min: 0, max: 1 }
    }
  },
  plugins: [cbPlugin]
});
</script>
</body></html>
